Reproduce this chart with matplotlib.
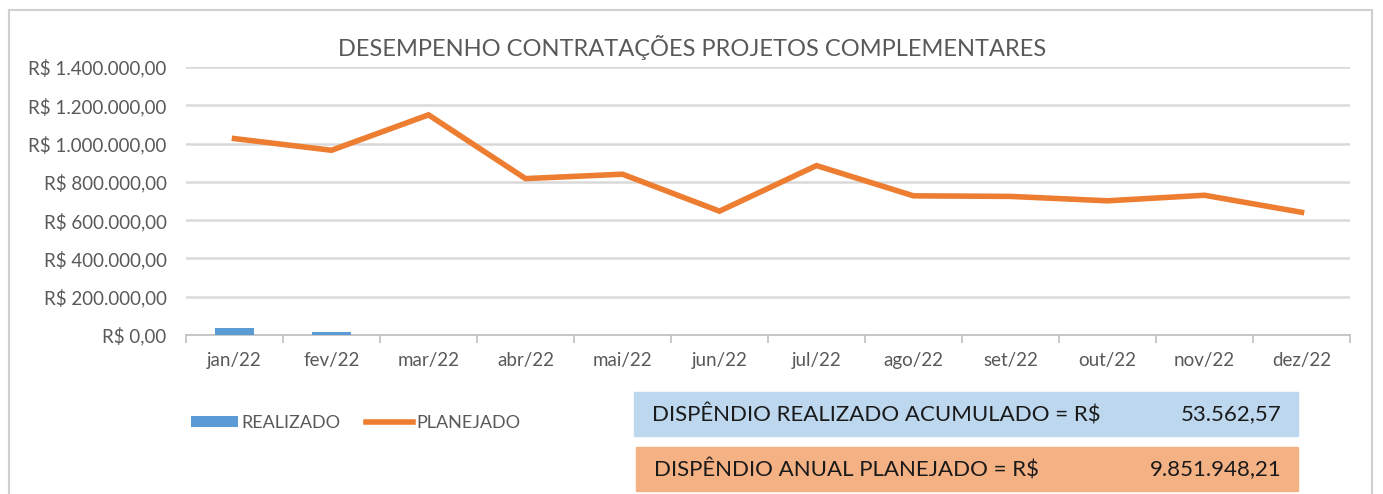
import matplotlib.pyplot as plt
from matplotlib.patches import Rectangle
import numpy as np

plt.rcParams['font.family'] = ['Liberation Sans Narrow', 'Lato', 'DejaVu Sans']

# data
meses = ['jan/22', 'fev/22', 'mar/22', 'abr/22', 'mai/22', 'jun/22',
         'jul/22', 'ago/22', 'set/22', 'out/22', 'nov/22', 'dez/22']
realizado = [36000, 17562, 0, 0, 0, 0, 0, 0, 0, 0, 0, 0]
planejado = [1026000, 965000, 1150000, 817000, 840000, 647000,
             885000, 727000, 724000, 701000, 730000, 641000]
yticks = [0, 200000, 400000, 600000, 800000, 1000000, 1200000, 1400000]
txt_realizado = 'DISPÊNDIO REALIZADO ACUMULADO = R$'
val_realizado = '53.562,57'
txt_planejado = 'DISPÊNDIO ANUAL PLANEJADO = R$'
val_planejado = '9.851.948,21'

W, H = 1383, 494
fig = plt.figure(figsize=(W / 100, H / 100), dpi=100)
gray = '#595959'

def fx(px):
    return px / W

def fy(py):
    return 1 - py / H

# outer chart border
fig.patches.append(Rectangle((fx(9), fy(520)), fx(1372) - fx(9), fy(10) - fy(520),
                             transform=fig.transFigure, fill=False,
                             edgecolor='#D0D0D0', lw=1.5))

ax = fig.add_axes([fx(186), fy(335), fx(1350) - fx(186), fy(67) - fy(335)])
x = np.arange(len(meses))
bars = ax.bar(x, realizado, width=0.4, color='#5B9BD5', label='REALIZADO', zorder=3)
line, = ax.plot(x, planejado, color='#ED7D31', lw=4, label='PLANEJADO', zorder=4,
                solid_joinstyle='miter')

ax.set_xlim(-0.5, len(meses) - 0.5)
ax.set_ylim(0, 1400000)
ax.set_yticks(yticks)
ax.set_yticklabels(['R$ ' + f'{v:,.2f}'.replace(',', 'X').replace('.', ',').replace('X', '.')
                    for v in yticks], color=gray, fontsize=13.5)
ax.set_xticks(x)
ax.set_xticklabels(meses, color=gray, fontsize=13.5)
ax.set_xticks(np.arange(-0.5, len(meses)), minor=True)
ax.tick_params(axis='x', which='major', length=0, pad=12)
ax.tick_params(axis='x', which='minor', length=6, color='#BFBFBF', width=1.2)
ax.tick_params(axis='y', length=0, pad=14)
ax.grid(axis='y', color='#D9D9D9', lw=1.8, zorder=0)
for s in ['top', 'right', 'left']:
    ax.spines[s].set_visible(False)
ax.spines['bottom'].set_color('#BFBFBF')
ax.spines['bottom'].set_linewidth(1.2)

fig.text(fx(692), fy(48), 'DESEMPENHO CONTRATAÇÕES PROJETOS COMPLEMENTARES',
         ha='center', va='center', color=gray, fontsize=17)

leg = fig.legend([bars, line], ['REALIZADO', 'PLANEJADO'], loc='center left',
                 bbox_to_anchor=(fx(175), fy(423)), ncol=2,
                 frameon=False, fontsize=13, handlelength=2.6, handleheight=0.6,
                 handletextpad=0.2, columnspacing=1.4)
for t in leg.get_texts():
    t.set_color(gray)

# summary boxes
fig.patches.append(Rectangle((fx(634), fy(436)), fx(1298) - fx(634), fy(392) - fy(436),
                             transform=fig.transFigure, color='#BDD7EE'))
fig.patches.append(Rectangle((fx(636), fy(491)), fx(1298) - fx(636), fy(447) - fy(491),
                             transform=fig.transFigure, color='#F4B183'))
fig.text(fx(652), fy(414), txt_realizado, ha='left', va='center', fontsize=16, color='#1a1a1a')
fig.text(fx(1282), fy(414), val_realizado, ha='right', va='center', fontsize=16, color='#1a1a1a')
fig.text(fx(654), fy(469), txt_planejado, ha='left', va='center', fontsize=16, color='#1a1a1a')
fig.text(fx(1282), fy(469), val_planejado, ha='right', va='center', fontsize=16, color='#1a1a1a')

fig.savefig('out.png', dpi=100, facecolor='white')
